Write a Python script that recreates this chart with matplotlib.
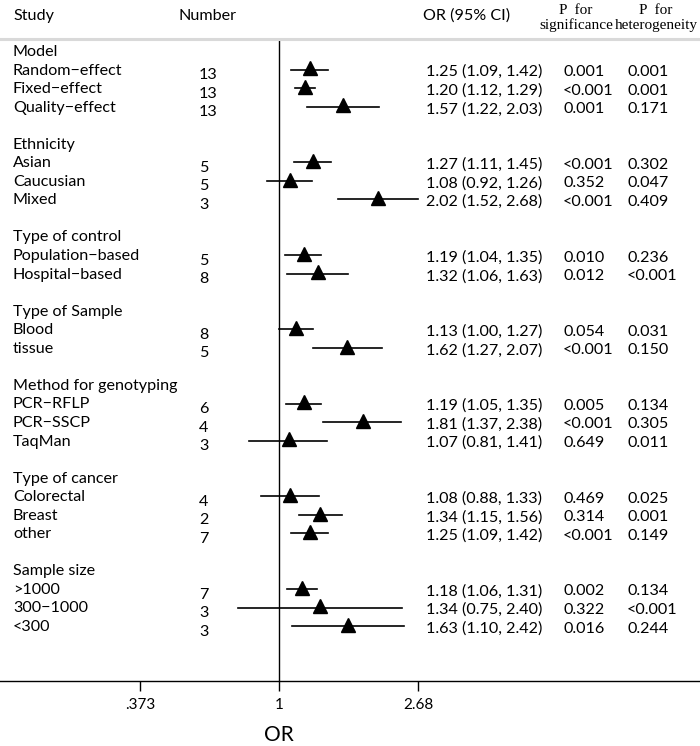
import numpy as np
import matplotlib
matplotlib.use("Agg")
import matplotlib.pyplot as plt
import matplotlib.transforms as mtransforms

# ---------------- data ----------------
groups = ["Model", "Ethnicity", "Type of control", "Type of Sample",
          "Method for genotyping", "Type of cancer", "Sample size"]
subgroups = [
    ["Random\u2212effect", "Fixed\u2212effect", "Quality\u2212effect"],
    ["Asian", "Caucusian", "Mixed"],
    ["Population\u2212based", "Hospital\u2212based"],
    ["Blood", "tissue"],
    ["PCR\u2212RFLP", "PCR\u2212SSCP", "TaqMan"],
    ["Colorectal", "Breast", "other"],
    [">1000", "300\u22121000", "<300"],
]
numbers = [[13, 13, 13], [5, 5, 3], [5, 8], [8, 5], [6, 4, 3], [4, 2, 7], [7, 3, 3]]
or_est = [[1.25, 1.20, 1.57], [1.27, 1.08, 2.02], [1.19, 1.32], [1.13, 1.62],
          [1.19, 1.81, 1.07], [1.08, 1.34, 1.25], [1.18, 1.34, 1.63]]
ci_low = [[1.09, 1.12, 1.22], [1.11, 0.92, 1.52], [1.04, 1.06], [1.00, 1.27],
          [1.05, 1.37, 0.81], [0.88, 1.15, 1.09], [1.06, 0.75, 1.10]]
ci_high = [[1.42, 1.29, 2.03], [1.45, 1.26, 2.68], [1.35, 1.63], [1.27, 2.07],
           [1.35, 2.38, 1.41], [1.33, 1.56, 1.42], [1.31, 2.40, 2.42]]
p_sig = [["0.001", "<0.001", "0.001"], ["<0.001", "0.352", "<0.001"],
         ["0.010", "0.012"], ["0.054", "<0.001"],
         ["0.005", "<0.001", "0.649"], ["0.469", "0.314", "<0.001"],
         ["0.002", "0.322", "0.016"]]
p_het = [["0.001", "0.001", "0.171"], ["0.302", "0.047", "0.409"],
         ["0.236", "<0.001"], ["0.031", "0.150"],
         ["0.134", "0.305", "0.011"], ["0.025", "0.001", "0.149"],
         ["0.134", "<0.001", "0.244"]]
xticks = [0.373, 1, 2.68]
xtick_labels = [".373", "1", "2.68"]

# ---------------- layout ----------------
W, H = 700, 746
SANS = ["Lato", "DejaVu Sans"]
SERIF = ["Liberation Serif", "DejaVu Serif"]
fs = 11.6

fig = plt.figure(figsize=(W / 100, H / 100), dpi=100)
ax_top_px, ax_bot_px = 39, 681
ax = fig.add_axes([0, 1 - ax_bot_px / H, 1, (ax_bot_px - ax_top_px) / H])

k = 141.0      # px per ln unit
x1_px = 279.0  # pixel of OR = 1
ax.set_xscale("log")
ax.set_xlim(np.exp(-x1_px / k), np.exp((W - x1_px) / k))

row0_px, pitch = 52.0, 18.55
ax.set_ylim((ax_bot_px - row0_px) / pitch, (ax_top_px - row0_px) / pitch)

for s in ["top", "left", "right"]:
    ax.spines[s].set_visible(False)
ax.spines["bottom"].set_linewidth(1.0)
ax.set_yticks([])
ax.set_xticks(xticks)
ax.set_xticklabels(xtick_labels, fontfamily=SANS, fontsize=fs - 0.6)
ax.xaxis.set_minor_locator(matplotlib.ticker.NullLocator())
ax.tick_params(axis="x", direction="out", length=7.5, width=1.0, pad=5)
ax.set_xlabel("OR", fontfamily=SANS, fontsize=15, labelpad=9)
ax.xaxis.label.set_x(x1_px / W)

ax.axvline(1, color="black", lw=1.0, zorder=1)
ax.axhline((ax_top_px - row0_px) / pitch, color="#d9d9d9", lw=2.2, clip_on=False)

tr = mtransforms.blended_transform_factory(ax.transAxes, ax.transData)
def fx(px):
    return px / W

# headers
hy = (16 - row0_px) / pitch
ax.text(fx(13), hy, "Study", transform=tr, fontfamily=SANS, fontsize=fs, va="center")
ax.text(fx(178), hy, "Number", transform=tr, fontfamily=SANS, fontsize=fs, va="center")
ax.text(fx(423), hy, "OR (95% CI)", transform=tr, fontfamily=SANS, fontsize=fs, va="center")
ax.text(fx(576), (18 - row0_px) / pitch, "P  for\nsignificance", transform=tr,
        fontfamily=SERIF, fontsize=11, va="center", ha="center", linespacing=1.1)
ax.text(fx(656), (18 - row0_px) / pitch, "P  for\nheterogeneity", transform=tr,
        fontfamily=SERIF, fontsize=11, va="center", ha="center", linespacing=1.1)

row = 0
for g, name in enumerate(groups):
    ax.text(fx(13), row, name, transform=tr, fontfamily=SANS, fontsize=fs, va="center")
    row += 1
    for j, sub in enumerate(subgroups[g]):
        ax.text(fx(13), row, sub, transform=tr, fontfamily=SANS, fontsize=fs, va="center")
        ax.text(fx(199), row + 0.25, str(numbers[g][j]), transform=tr,
                fontfamily=SANS, fontsize=fs, va="center")
        ax.text(fx(426), row + 0.08,
                f"{or_est[g][j]:.2f} ({ci_low[g][j]:.2f}, {ci_high[g][j]:.2f})",
                transform=tr, fontfamily=SANS, fontsize=fs, va="center")
        ax.text(fx(563), row + 0.08, p_sig[g][j], transform=tr, fontfamily=SANS,
                fontsize=fs, va="center")
        ax.text(fx(627), row + 0.08, p_het[g][j], transform=tr, fontfamily=SANS,
                fontsize=fs, va="center")
        ax.plot([ci_low[g][j], ci_high[g][j]], [row - 0.05, row - 0.05],
                color="black", lw=1.2, zorder=2)
        ax.plot(or_est[g][j], row - 0.12, marker="^", color="black",
                markersize=9.5, zorder=3)
        row += 1
    row += 1

fig.savefig("out.png", dpi=100)
